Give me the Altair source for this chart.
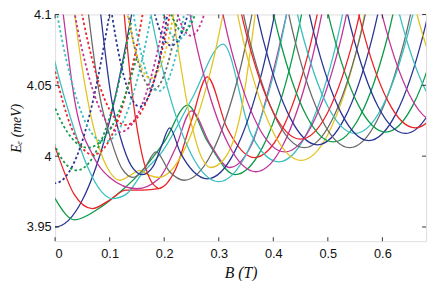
import altair as alt
import pandas as pd

PALETTE = {
    "blue": "#2a3593", "green": "#0b9b49", "red": "#ec2227", "cyan": "#3bbfbf",
    "magenta": "#c1339a", "yellow": "#e3c31f", "gray": "#6a6a6a",
}

# ---- solid level curves: colour, B values (T), E values (meV) ----
solid_color = [
    "blue", "green", "red", "cyan", "magenta", "yellow", "gray", "blue", "red", "yellow",
    "cyan", "magenta", "magenta", "yellow", "gray", "blue", "green", "gray", "cyan", "blue",
    "green", "blue", "red", "magenta", "cyan", "yellow", "red",
]
solid_B = [
    [-0.1, -0.05, 0, 0.05, 0.1, 0.16],
    [-0.03, 0, 0.036, 0.08, 0.12, 0.16, 0.2, 0.243, 0.28, 0.33, 0.38, 0.43, 0.49],
    [-0.03, 0, 0.035, 0.068, 0.1, 0.13, 0.16, 0.19, 0.22, 0.25, 0.279, 0.315, 0.365, 0.415, 0.465, 0.525],
    [-0.02, 0, 0.03, 0.06, 0.085, 0.105, 0.13, 0.16, 0.196, 0.25, 0.308, 0.36, 0.41, 0.46, 0.51, 0.57],
    [0.0, 0.015, 0.036, 0.07, 0.1, 0.15, 0.19, 0.22, 0.25, 0.285, 0.32, 0.36, 0.4, 0.43],
    [0.03, 0.036, 0.06, 0.08, 0.1, 0.119, 0.14, 0.155, 0.17, 0.19, 0.235, 0.285, 0.345],
    [0.055, 0.083, 0.103, 0.123, 0.143, 0.163, 0.185, 0.21, 0.237, 0.287, 0.337, 0.397],
    [0.078, 0.104, 0.12, 0.14, 0.16, 0.18, 0.195, 0.21, 0.229, 0.254, 0.279, 0.329, 0.379, 0.439],
    [0.122, 0.143, 0.16, 0.175, 0.19],
    [0.205, 0.216, 0.248, 0.27, 0.285, 0.31, 0.34, 0.37],
    [0.14, 0.2, 0.25, 0.3, 0.35, 0.4, 0.46],
    [0.208, 0.268, 0.318, 0.368, 0.418, 0.468, 0.528],
    [0.261, 0.321, 0.371, 0.421, 0.471, 0.521, 0.581],
    [0.291, 0.351, 0.401, 0.451, 0.501, 0.551, 0.611],
    [0.297, 0.357, 0.407, 0.457, 0.507, 0.557, 0.617],
    [0.321, 0.381, 0.431, 0.481, 0.531, 0.581, 0.641],
    [0.35, 0.41, 0.46, 0.51, 0.56, 0.61, 0.67],
    [0.38, 0.44, 0.49, 0.54, 0.59, 0.64, 0.7],
    [0.39, 0.45, 0.5, 0.55, 0.6, 0.65, 0.71],
    [0.415, 0.475, 0.525, 0.575, 0.625, 0.675, 0.735],
    [0.446, 0.506, 0.556, 0.606, 0.656, 0.706, 0.766],
    [0.482, 0.542, 0.592, 0.642, 0.692, 0.742],
    [0.5, 0.56, 0.61, 0.66, 0.71, 0.76],
    [0.54, 0.6, 0.65, 0.7, 0.75],
    [0.57, 0.63, 0.68, 0.73, 0.78],
    [0.6, 0.66, 0.71, 0.76, 0.81],
    [0.29, 0.35, 0.4, 0.45, 0.5, 0.55, 0.61],
]
solid_E = [
    [4.025, 3.969, 3.950, 3.969, 4.025, 4.142],
    [3.995, 3.970, 3.955, 3.963, 3.975, 3.99, 4.01, 4.036, 4.01, 3.987, 4.006, 4.062, 4.179],
    [4.035, 4.006, 3.973, 3.963, 3.969, 3.976, 3.976, 3.977, 3.99, 4.025, 4.056, 4.02, 3.999, 4.018, 4.074, 4.19],
    [4.1, 4.066, 4.025, 3.992, 3.975, 3.970, 3.973, 3.988, 4.003, 4.04, 4.079, 4.015, 3.996, 4.015, 4.071, 4.188],
    [4.15, 4.1, 4.039, 4.0, 3.985, 3.977, 3.984, 4.005, 4.032, 4.008, 3.992, 4.008, 4.06, 4.11],
    [4.12, 4.1, 4.039, 4.007, 3.989, 3.983, 3.987, 3.99, 3.987, 3.985, 4.003, 4.06, 4.177],
    [4.12, 4.04, 4.011, 3.991, 3.985, 3.991, 4.003, 3.989, 3.983, 4.002, 4.058, 4.175],
    [4.12, 4.039, 4.013, 3.993, 3.987, 3.993, 4.007, 4.02, 4.003, 3.989, 3.984, 4.003, 4.059, 4.176],
    [4.12, 4.039, 4.0, 3.983, 3.977],
    [4.13, 4.1, 4.026, 3.998, 3.992, 3.998, 4.03, 4.11],
    [4.174, 4.057, 4.001, 3.982, 4.001, 4.057, 4.174],
    [4.181, 4.064, 4.008, 3.989, 4.008, 4.064, 4.181],
    [4.195, 4.078, 4.022, 4.003, 4.022, 4.078, 4.195],
    [4.189, 4.072, 4.016, 3.997, 4.016, 4.072, 4.189],
    [4.198, 4.081, 4.025, 4.006, 4.025, 4.081, 4.198],
    [4.2, 4.083, 4.027, 4.008, 4.027, 4.083, 4.2],
    [4.202, 4.085, 4.029, 4.01, 4.029, 4.085, 4.202],
    [4.198, 4.081, 4.025, 4.006, 4.025, 4.081, 4.198],
    [4.208, 4.091, 4.035, 4.016, 4.035, 4.091, 4.208],
    [4.203, 4.086, 4.03, 4.011, 4.03, 4.086, 4.203],
    [4.209, 4.092, 4.036, 4.017, 4.036, 4.092, 4.209],
    [4.208, 4.091, 4.035, 4.016, 4.035, 4.091],
    [4.212, 4.095, 4.039, 4.02, 4.039, 4.095],
    [4.216, 4.099, 4.043, 4.024, 4.043],
    [4.219, 4.102, 4.046, 4.027, 4.046],
    [4.222, 4.105, 4.049, 4.03, 4.049],
    [4.204, 4.087, 4.031, 4.012, 4.031, 4.087, 4.204],
]

# ---- dashed level curves ----
dashed_color = [
    "blue", "green", "red", "cyan", "magenta", "red", "gray", "cyan", "yellow",
    "blue", "cyan", "magenta", "green", "blue", "green",
]
dashed_B = [
    [-0.04, 0, 0.04, 0.07, 0.1, 0.12],
    [-0.06, -0.03, 0, 0.04, 0.08, 0.11, 0.14],
    [-0.03, 0, 0.03, 0.07, 0.11, 0.14, 0.17],
    [-0.01, 0.02, 0.05, 0.09, 0.13, 0.16, 0.19],
    [0.019, 0.049, 0.079, 0.119, 0.159, 0.189, 0.219],
    [0.03, 0.06, 0.09, 0.13, 0.17, 0.2, 0.23],
    [0.11, 0.13, 0.15, 0.18, 0.21, 0.23, 0.25],
    [0.12, 0.14, 0.16, 0.19, 0.22, 0.24, 0.26],
    [0.105, 0.125, 0.145, 0.175, 0.205, 0.225, 0.245],
    [0.143, 0.163, 0.183, 0.213, 0.243, 0.263],
    [0.175, 0.195, 0.225, 0.255, 0.275],
    [0.199, 0.219, 0.249, 0.279, 0.299],
    [0.185, 0.205, 0.235, 0.265, 0.285],
    [0.085, 0.105, 0.125, 0.155, 0.185, 0.205, 0.225],
    [-0.03, 0, 0.03, 0.06, 0.09, 0.12, 0.15],
]
dashed_E = [
    [4.0, 3.981, 4.0, 4.04, 4.101, 4.15],
    [4.096, 4.049, 4.007, 3.990, 4.007, 4.041, 4.096],
    [4.121, 4.06, 4.02, 4.001, 4.02, 4.06, 4.121],
    [4.13, 4.069, 4.029, 4.01, 4.029, 4.069, 4.13],
    [4.137, 4.076, 4.036, 4.017, 4.036, 4.076, 4.137],
    [4.142, 4.081, 4.041, 4.022, 4.041, 4.081, 4.142],
    [4.17, 4.11, 4.07, 4.047, 4.07, 4.11, 4.17],
    [4.169, 4.109, 4.069, 4.046, 4.069, 4.109, 4.169],
    [4.178, 4.118, 4.078, 4.055, 4.078, 4.118, 4.178],
    [4.2, 4.14, 4.1, 4.078, 4.1, 4.14],
    [4.145, 4.105, 4.082, 4.105, 4.145],
    [4.148, 4.108, 4.085, 4.108, 4.148],
    [4.151, 4.111, 4.088, 4.111, 4.151],
    [4.158, 4.098, 4.058, 4.035, 4.058, 4.098, 4.158],
    [4.07, 4.034, 4.013, 4.006, 4.013, 4.034, 4.07],
]

x_ticks = [0, 0.1, 0.2, 0.3, 0.4, 0.5, 0.6]
y_ticks = [3.95, 4.0, 4.05, 4.1]

W, H = 378, 231
X_DOMAIN = [0, 0.68]
Y_DOMAIN = [3.94, 4.1]


def table(colors, Bs, Es, style):
    rows = []
    for i, (c, bl, el) in enumerate(zip(colors, Bs, Es)):
        for j, (b, e) in enumerate(zip(bl, el)):
            rows.append({"curve": f"{style}{i}", "col": PALETTE[c], "B": b, "E": e, "k": j})
    return pd.DataFrame(rows)


solid_df = table(solid_color, solid_B, solid_E, "s")
dashed_df = table(dashed_color, dashed_B, dashed_E, "d")

xs = alt.Scale(domain=X_DOMAIN, nice=False, zero=False)
ys = alt.Scale(domain=Y_DOMAIN, nice=False, zero=False)

x_axis = alt.Axis(values=x_ticks, labelExpr="format(datum.value, '~g')", ticks=False, domain=False,
                  grid=False, labelFont="Liberation Sans", labelFontSize=13, labelColor="#111",
                  labelPadding=7, title="B (T)", titleFont="Liberation Serif", titleFontStyle="italic",
                  titleFontWeight="normal", titleFontSize=16, titlePadding=4, titleColor="#111")
y_axis = alt.Axis(values=y_ticks, labelExpr="format(datum.value, '~g')", ticks=False, domain=False,
                  grid=False, labelFont="Liberation Sans", labelFontSize=13, labelColor="#111",
                  labelPadding=4, title="Eₑ (meV)", titleFont="Liberation Serif", titleFontStyle="italic",
                  titleFontWeight="normal", titleFontSize=14, titlePadding=3, titleColor="#111")

solid = alt.Chart(solid_df).mark_line(clip=True, interpolate="monotone", strokeWidth=1.3).encode(
    x=alt.X("B:Q", scale=xs, axis=x_axis),
    y=alt.Y("E:Q", scale=ys, axis=y_axis),
    color=alt.Color("col:N", scale=None),
    detail="curve:N",
    order="k:Q",
)
dashed = alt.Chart(dashed_df).mark_line(clip=True, interpolate="monotone", strokeWidth=1.8,
                                         strokeDash=[2.5, 2.5]).encode(
    x=alt.X("B:Q", scale=xs),
    y=alt.Y("E:Q", scale=ys),
    color=alt.Color("col:N", scale=None),
    detail="curve:N",
    order="k:Q",
)

xt = pd.DataFrame({"t": x_ticks})
yt = pd.DataFrame({"t": y_ticks})
tick_style = dict(color="#333", strokeWidth=1)
xb = alt.Chart(xt).mark_rule(**tick_style).encode(x=alt.X("t:Q", scale=xs), y=alt.value(H), y2=alt.value(H - 4))
xtop = alt.Chart(xt).mark_rule(**tick_style).encode(x=alt.X("t:Q", scale=xs), y=alt.value(0), y2=alt.value(4))
yl = alt.Chart(yt).mark_rule(**tick_style).encode(y=alt.Y("t:Q", scale=ys), x=alt.value(0), x2=alt.value(4))
yr = alt.Chart(yt).mark_rule(**tick_style).encode(y=alt.Y("t:Q", scale=ys), x=alt.value(W), x2=alt.value(W - 4))

chart = alt.layer(solid, dashed, xb, xtop, yl, yr).properties(
    width=W, height=H,
    autosize=alt.AutoSizeParams(type="none"),
    padding={"left": 48, "top": 4, "right": 2, "bottom": 38},
).configure_view(stroke="#333", strokeWidth=1.2).configure(background="white")

chart.save("out.html", embed_options={"renderer": "svg", "actions": False})
